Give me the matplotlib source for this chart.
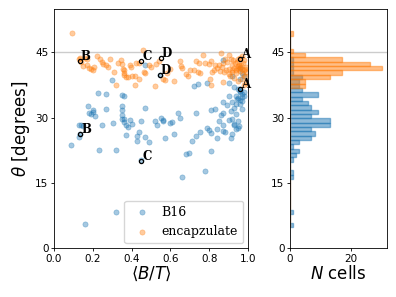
import numpy as np
import matplotlib
matplotlib.use("Agg")
import matplotlib.pyplot as plt

# ---------------- data ----------------
b16_x = [0.16, 0.32, 0.66, 0.78, 0.451, 0.68, 0.695, 0.233, 0.322, 0.81, 0.09,
         0.43, 0.49, 0.71,
         0.13, 0.43, 0.47, 0.57, 0.84, 0.91, 0.73,
         0.136, 0.37, 0.44, 0.62, 0.75, 0.81, 0.88, 0.92,
         0.38, 0.80, 0.79, 0.84, 0.95, 0.87, 0.94,
         0.13, 0.14, 0.15, 0.245, 0.305, 0.37, 0.40, 0.53, 0.87, 0.93, 0.93, 0.60, 0.955,
         0.35, 0.36, 0.36, 0.39, 0.45, 0.52, 0.56, 0.56, 0.85, 0.90, 0.95, 0.92, 0.61,
         0.21, 0.19, 0.35, 0.55, 0.65, 0.86, 0.94,
         0.18, 0.20, 0.20, 0.35, 0.64, 0.73, 0.81, 0.87, 0.91,
         0.177, 0.266, 0.35, 0.47, 0.83, 0.93, 0.97,
         0.89, 0.87, 0.92, 0.94, 0.96, 0.97,
         0.96, 0.97, 0.95, 0.945,
         0.225, 0.266, 0.35, 0.36, 0.90, 0.94, 0.97, 0.98, 0.96,
         0.95, 0.96, 0.98, 0.96,
         0.72, 0.74, 0.93,
         0.297, 0.79, 0.90,
         0.96, 0.92, 0.545, 0.98,
         0.97, 0.96, 0.47, 0.87]
b16_y = [5.6, 8.3, 16.3, 17.8, 20.2, 21.6, 21.8, 22.5, 22.6, 22.3, 23.7,
         24.6, 24.5, 24.6,
         25.6, 25.8, 25.6, 25.2, 25.2, 25.3, 25.8,
         26.2, 26.0, 26.6, 26.2, 26.6, 26.5, 26.8, 26.3,
         27.8, 27.2, 27.7, 27.5, 27.6, 27.0, 27.4,
         28.3, 28.2, 28.0, 28.4, 28.7, 28.2, 28.6, 28.2, 28.4, 28.6, 28.3, 28.7, 28.1,
         29.6, 29.6, 29.0, 29.5, 29.2, 29.2, 29.5, 29.3, 29.3, 29.5, 29.2, 29.8, 29.0,
         30.3, 30.8, 30.5, 30.0, 30.0, 30.5, 30.8,
         31.0, 31.7, 31.3, 31.7, 31.0, 31.1, 31.8, 31.0, 31.6,
         32.6, 32.0, 32.7, 32.2, 32.0, 32.2, 32.0,
         32.9, 33.5, 33.5, 33.2, 33.2, 33.8,
         34.0, 34.8, 34.5, 34.2,
         35.7, 35.4, 35.1, 35.0, 35.0, 35.0, 35.5, 35.0, 35.8,
         36.5, 36.2, 36.0, 36.7,
         37.2, 37.7, 37.0,
         38.6, 38.0, 38.0,
         38.9, 39.6, 39.8, 39.5,
         40.3, 41.5, 42.1, 43.2]

enc_x = [0.094, 0.46,
         0.22, 0.77, 0.86, 0.90, 0.97,
         0.13, 0.135, 0.16, 0.17, 0.235, 0.29, 0.345, 0.54, 0.65, 0.73, 0.81, 0.88,
         0.91, 0.925, 0.95, 0.96, 0.98,
         0.14, 0.17, 0.245, 0.255, 0.27, 0.33, 0.35, 0.39, 0.425, 0.44, 0.49, 0.525,
         0.655, 0.745, 0.78, 0.80, 0.83, 0.85, 0.87, 0.89, 0.915, 0.935, 0.945, 0.955,
         0.965, 0.975,
         0.15, 0.18, 0.19, 0.20, 0.205, 0.28, 0.355, 0.36, 0.395, 0.50, 0.60, 0.66,
         0.70, 0.72, 0.84, 0.865, 0.885, 0.90, 0.92, 0.93, 0.94, 0.95, 0.955, 0.96,
         0.97, 0.98, 0.99, 0.985, 0.945, 0.825,
         0.31, 0.36, 0.465, 0.47, 0.58, 0.68, 0.74, 0.75, 0.815, 0.855, 0.875, 0.90,
         0.92, 0.94, 0.96, 0.975, 0.99,
         0.36, 0.37, 0.38, 0.40, 0.42, 0.44, 0.56, 0.69, 0.805, 0.905, 0.93, 0.985, 0.97,
         0.57, 0.62, 0.87, 0.95, 0.99,
         0.32, 0.42, 0.52, 0.81, 0.98]
enc_y = [49.5, 45.5,
         44.1, 44.5, 44.8, 44.4, 44.2,
         43.5, 43.8, 43.7, 43.4, 43.6, 43.4, 43.3, 43.0, 43.1, 43.0, 43.1, 43.6,
         43.5, 43.2, 43.5, 43.8, 43.2,
         42.9, 42.1, 42.8, 42.4, 42.0, 42.6, 42.3, 42.1, 42.6, 42.5, 42.2, 42.4,
         41.9, 42.6, 42.5, 42.3, 42.2, 42.0, 42.6, 42.8, 42.0, 42.5, 42.7, 42.2,
         42.0, 42.5,
         41.8, 41.5, 41.2, 41.0, 41.6, 41.6, 41.3, 41.0, 41.7, 41.6, 41.2, 41.4,
         40.9, 40.9, 41.5, 41.6, 41.0, 41.2, 41.0, 41.5, 41.0, 41.8, 41.3, 41.6,
         41.3, 41.0, 41.7, 41.2, 41.4, 41.0,
         40.6, 40.3, 40.6, 40.2, 40.2, 40.0, 40.5, 40.2, 40.5, 40.8, 40.4, 40.0,
         40.6, 40.3, 40.8, 40.1, 40.5,
         39.8, 39.4, 39.3, 39.5, 39.5, 39.0, 39.0, 39.6, 39.0, 39.5, 39.2, 39.5, 39.0,
         38.6, 38.4, 38.3, 38.5, 38.0,
         37.6, 37.6, 37.2, 37.5, 37.4]

# histogram, bins of 1 degree starting at 4.85
hist_bin_start = 4.85
hist_bin_width = 1.0
b16_counts = [1, 0, 0, 1, 0, 0, 0, 0, 0, 0, 0, 1, 1, 0, 0, 1, 2, 3, 1, 3, 7, 8, 7,
              13, 13, 7, 9, 7, 6, 4, 9, 4, 3, 3, 4, 1, 1, 1, 1, 0, 0, 0, 0, 0, 0]
enc_counts = [0] * 32 + [5, 5, 13, 17, 30, 26, 17, 5, 1, 0, 0, 0, 1]

annot_labels = ["A", "A", "B", "B", "C", "C", "D", "D"]
annot_x = [0.96, 0.96, 0.134, 0.136, 0.451, 0.451, 0.549, 0.545]
annot_y = [43.4, 36.7, 43.0, 26.2, 43.0, 20.0, 43.8, 39.8]

# ---------------- figure ----------------
fig = plt.figure(figsize=(3.96, 2.97), dpi=100)
ax = fig.add_axes([54/396, 49/297, 194/396, 239/297])
axh = fig.add_axes([290/396, 49/297, 96.5/396, 239/297])

blue = "#1f77b4"
orange = "#ff7f0e"

ax.scatter(b16_x, b16_y, s=14, color=blue, alpha=0.4, linewidths=0.5, label="B16")
ax.scatter(enc_x, enc_y, s=14, color=orange, alpha=0.4, linewidths=0.5, label="encapzulate")
ax.axhline(45, color="0.8", lw=1, zorder=0)

ax.plot(annot_x, annot_y, "o", mfc="none", mec="k", ms=3, mew=0.9, ls="none")
for lab, x, y in zip(annot_labels, annot_x, annot_y):
    ax.annotate(lab, (x, y), xytext=(0.5, -1.5), textcoords="offset points",
                ha="left", va="bottom", fontsize=8.5, fontweight="bold",
                family="DejaVu Serif")

ax.set_xlim(0, 1)
ax.set_ylim(0, 55)
ax.set_xticks([0, 0.2, 0.4, 0.6, 0.8, 1.0])
ax.set_yticks([0, 15, 30, 45])
ax.set_xlabel(r"$\langle B/T\rangle$", fontsize=12, labelpad=1)
ax.set_ylabel(r"$\theta$ [degrees]", fontsize=12, labelpad=2)
leg = ax.legend(loc="lower right", prop={"family": "DejaVu Serif", "size": 9},
                borderaxespad=0.4, handletextpad=0.6, borderpad=0.4)

edges = hist_bin_start + hist_bin_width * np.arange(len(b16_counts))
axh.barh(edges, b16_counts, height=hist_bin_width, align="edge", color=blue,
         alpha=0.5, edgecolor=blue, linewidth=1)
axh.barh(edges, enc_counts, height=hist_bin_width, align="edge", color=orange,
         alpha=0.5, edgecolor=orange, linewidth=1)
axh.axhline(45, color="0.8", lw=1, zorder=0)
axh.set_ylim(0, 55)
axh.set_xlim(0, 31.5)
axh.set_xticks([0, 20])
axh.set_yticks([0, 15, 30, 45])
axh.set_xlabel(r"$N$ cells", fontsize=12, labelpad=1)

for a in (ax, axh):
    a.tick_params(labelsize=7.5, length=2.5, width=0.6, pad=1.5)
    for s in a.spines.values():
        s.set_linewidth(0.6)

fig.savefig("out.png", dpi=100)
